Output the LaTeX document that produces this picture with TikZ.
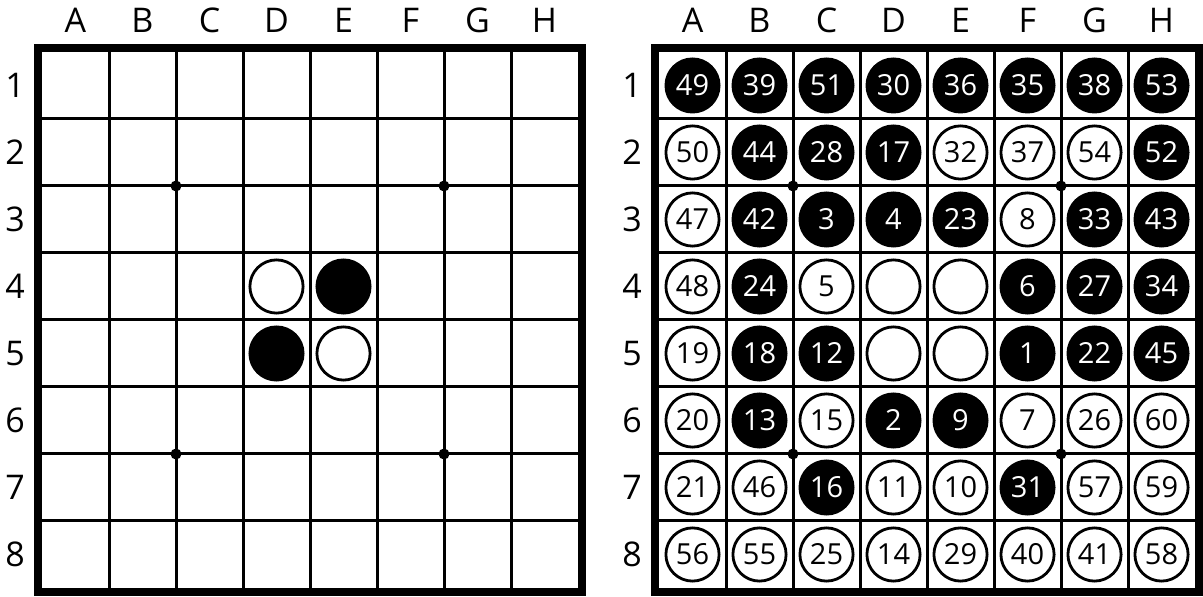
\documentclass[tikz,border=0pt]{standalone}
\usepackage{fontspec}
\setmainfont{Open Sans}
\usetikzlibrary{positioning}

\begin{document}
\begin{tikzpicture}[x=0.5pt, y=-0.5pt]
    % Define styles
    \tikzset{
        frame/.style={draw=black, line width=4pt},
        gridline/.style={draw=black, line width=1.5pt},
        stardot/.style={circle, fill=black, inner sep=0pt, minimum size=5.5pt},
        coord/.style={font=\fontsize{17}{20}\selectfont},
        disc/.style={circle, draw=black, line width=1.4pt, minimum size=26.6pt, inner sep=0pt, font=\fontsize{14.5}{16}\selectfont},
        blk/.style={disc, fill=black, text=white},
        wht/.style={disc, fill=white}
    }
    \useasboundingbox (0,0) rectangle (1203,597);

    % Boards: grid, frame, star points, coordinates
    \foreach \bx/\side in {42/L, 659/R} {
        \foreach \i in {1,...,7} {
            \draw[gridline] ({\bx+\i*67}, 52) -- ({\bx+\i*67}, 588);
            \draw[gridline] (\bx, {52+\i*67}) -- ({\bx+536}, {52+\i*67});
        }
        \draw[frame] ({\bx-4}, 48) rectangle ({\bx+540}, 592);
        \foreach \sx in {2,6}
            \foreach \sy in {2,6}
                \node[stardot] (\side-star-\sx\sy) at ({\bx+\sx*67}, {52+\sy*67}) {};
        \foreach \c [count=\i] in {A,B,C,D,E,F,G,H}
            \node[coord] (\side-col-\c) at ({\bx+\i*67-33.5}, 20) {\c};
        \foreach \r in {1,...,8}
            \node[coord] (\side-row-\r) at ({\bx-27}, {52+\r*67-33.5}) {\r};
    }

    % Start position (left)
    \node[wht] (L-D4) at ({42+3.5*67}, {52+3.5*67}) {};
    \node[blk] (L-E4) at ({42+4.5*67}, {52+3.5*67}) {};
    \node[blk] (L-D5) at ({42+3.5*67}, {52+4.5*67}) {};
    \node[wht] (L-E5) at ({42+4.5*67}, {52+4.5*67}) {};

    % Game record (right)
    \foreach \r/\cells in {
        1/{blk/49,blk/39,blk/51,blk/30,blk/36,blk/35,blk/38,blk/53},
        2/{wht/50,blk/44,blk/28,blk/17,wht/32,wht/37,wht/54,blk/52},
        3/{wht/47,blk/42,blk/3,blk/4,blk/23,wht/8,blk/33,blk/43},
        4/{wht/48,blk/24,wht/5,wht/,wht/,blk/6,blk/27,blk/34},
        5/{wht/19,blk/18,blk/12,wht/,wht/,blk/1,blk/22,blk/45},
        6/{wht/20,blk/13,wht/15,blk/2,blk/9,wht/7,wht/26,wht/60},
        7/{wht/21,wht/46,blk/16,wht/11,wht/10,blk/31,wht/57,wht/59},
        8/{wht/56,wht/55,wht/25,wht/14,wht/29,wht/40,wht/41,wht/58}}
        \foreach \t/\n [count=\c] in \cells
            \node[\t] (R-\c-\r) at ({659+\c*67-33.5}, {52+\r*67-33.5}) {\n};
\end{tikzpicture}
\end{document}
